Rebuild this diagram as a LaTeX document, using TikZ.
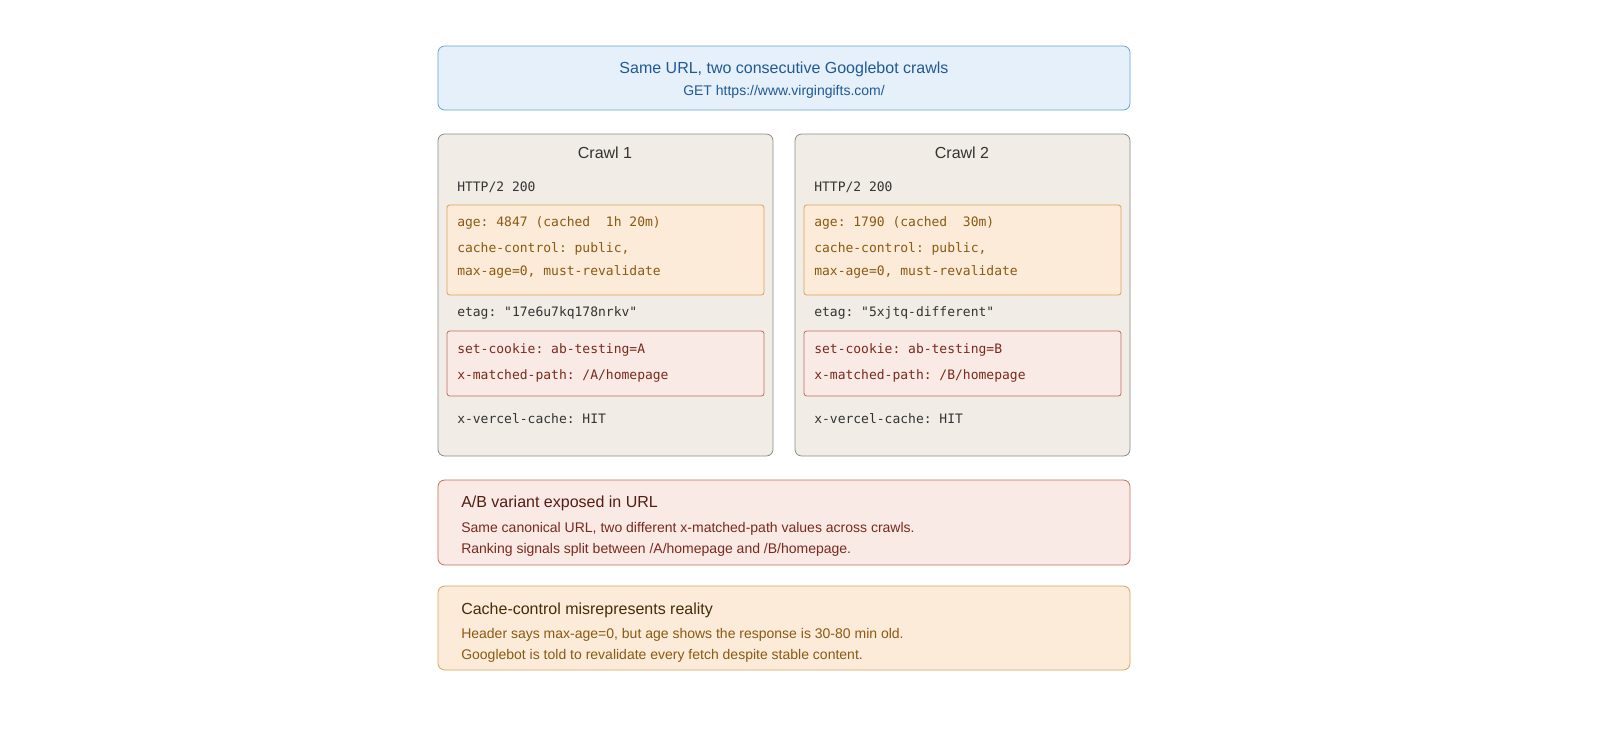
\documentclass[tikz,border=0pt]{standalone}
\usepackage{fontspec}
\setmainfont{Liberation Sans}
\setmonofont{DejaVu Sans Mono}
\definecolor{bluefill}{HTML}{E6F0FA}
\definecolor{blueline}{HTML}{6A9FD4}
\definecolor{bluetext}{HTML}{1F5A96}
\definecolor{crawlfill}{HTML}{F1EDE6}
\definecolor{crawlline}{HTML}{8A8A8A}
\definecolor{orfill}{HTML}{FBEBD8}
\definecolor{orline}{HTML}{D9A35B}
\definecolor{ortext}{HTML}{8A5A12}
\definecolor{redfill}{HTML}{F9EAE6}
\definecolor{redline}{HTML}{C0705A}
\definecolor{redtext}{HTML}{7A2A1A}
\definecolor{darktext}{HTML}{333333}
\begin{document}
\begin{tikzpicture}[x=0.75pt,y=-0.75pt,
    box/.style={line width=0.6,rounded corners=5},
    mono/.style={anchor=west,inner sep=0,font=\ttfamily\fontsize{9.75}{11}\selectfont},
    head/.style={inner sep=0,font=\fontsize{12}{14}\selectfont},
    body/.style={anchor=west,inner sep=0,font=\fontsize{10.5}{12}\selectfont}
    ]
    \useasboundingbox (0,0) rectangle (1600,729);
    % top banner
    \draw[box,fill=bluefill,draw=blueline] (438,46) rectangle (1130,110);
    \node[head,text=bluetext] (title) at (784,69) {Same URL, two consecutive Googlebot crawls};
    \node[inner sep=0,font=\fontsize{10.5}{12}\selectfont,text=bluetext] (url) at (784,92) {GET https://www.virgingifts.com/};

    \foreach \n/\x/\age/\cached/\etag/\v in {1/438/4847/~1h 20m/17e6u7kq178nrkv/A,2/795/1790/~30m/5xjtq-different/B} {
        \begin{scope}[shift={(\x,0)}]
            \draw[box,fill=crawlfill,draw=crawlline] (0,134) rectangle (335,456);
            \node[head,text=darktext] (crawl\n) at (167,153) {Crawl \n};
            \node[mono,text=darktext] (status\n) at (19,187) {HTTP/2 200};
            \draw[box,rounded corners=2,fill=orfill,draw=orline] (9,205) rectangle (326,295);
            \node[mono,text=ortext] (age\n) at (19,223) {age: \age\ (cached \cached)};
            \node[mono,text=ortext] (cc\n) at (19,249) {cache-control: public,};
            \node[mono,text=ortext] (ma\n) at (19,272) {max-age=0, must-revalidate};
            \node[mono,text=darktext] (etag\n) at (19,313) {etag: "\etag"};
            \draw[box,rounded corners=2,fill=redfill,draw=redline] (9,331) rectangle (326,396);
            \node[mono,text=redtext] (cookie\n) at (19,350) {set-cookie: ab-testing=\v};
            \node[mono,text=redtext] (path\n) at (19,376) {x-matched-path: /\v/homepage};
            \node[mono,text=darktext] (vercel\n) at (19,419) {x-vercel-cache: HIT};
        \end{scope}
    }

    % findings
    \draw[box,fill=redfill,draw=redline] (438,480) rectangle (1130,565);
    \node[head,anchor=west,text=redtext!70!black] (abhead) at (461,503) {A/B variant exposed in URL};
    \node[body,text=redtext] (abline1) at (461,529) {Same canonical URL, two different x-matched-path values across crawls.};
    \node[body,text=redtext] (abline2) at (461,550) {Ranking signals split between /A/homepage and /B/homepage.};

    \draw[box,fill=orfill,draw=orline] (438,586) rectangle (1130,670);
    \node[head,anchor=west,text=ortext!50!black] (cchead) at (461,610) {Cache-control misrepresents reality};
    \node[body,text=ortext] (ccline1) at (461,635) {Header says max-age=0, but age shows the response is 30-80 min old.};
    \node[body,text=ortext] (ccline2) at (461,656) {Googlebot is told to revalidate every fetch despite stable content.};
\end{tikzpicture}
\end{document}
